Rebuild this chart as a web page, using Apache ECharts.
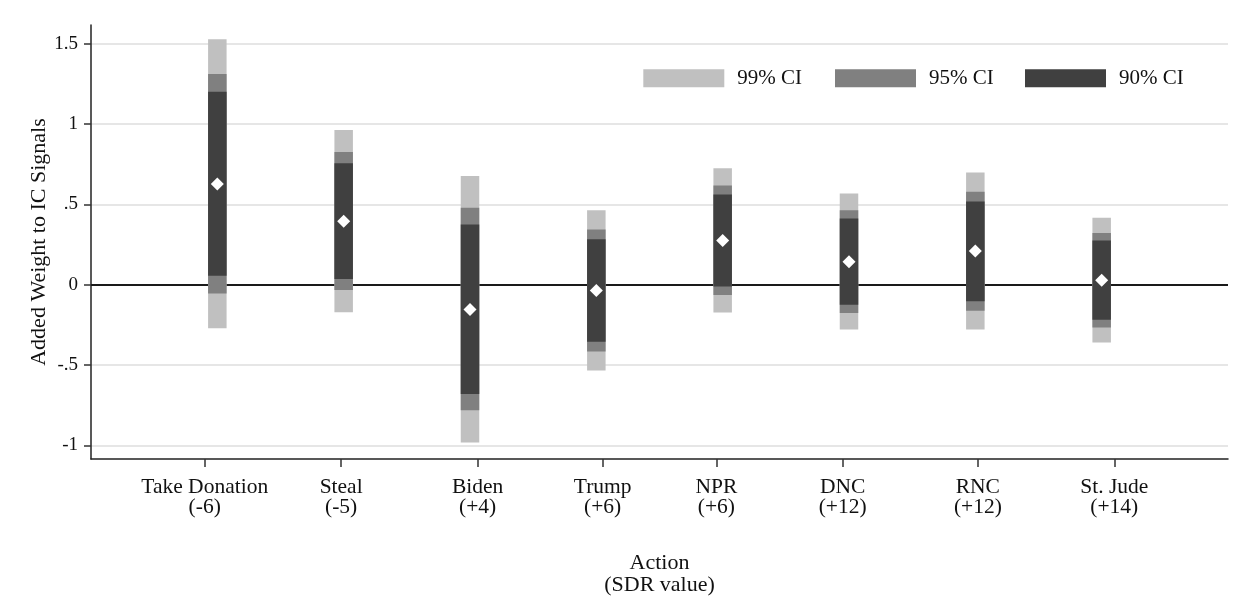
<!DOCTYPE html>
<html>
<head>
<meta charset="utf-8">
<script src="https://cdn.jsdelivr.net/npm/echarts@6/dist/echarts.min.js"></script>
<style>html,body{margin:0;padding:0;background:#fff}#c{width:1250px;height:601px}</style>
</head>
<body>
<div id="c"></div>
<script>
// ---- data ----
const labels = ['Take Donation\n(-6)', 'Steal\n(-5)', 'Biden\n(+4)', 'Trump\n(+6)', 'NPR\n(+6)', 'DNC\n(+12)', 'RNC\n(+12)', 'St. Jude\n(+14)'];
const barX = [1, 2, 3, 4, 5, 6, 7, 8];
const tickX = [0.90, 1.98, 3.06, 4.05, 4.95, 5.95, 7.02, 8.10];
const yTicks = [-1, -0.5, 0, 0.5, 1, 1.5];
const estimate = [0.628, 0.396, -0.153, -0.035, 0.276, 0.143, 0.211, 0.029];
const lo90 = [0.056, 0.037, -0.680, -0.354, -0.010, -0.124, -0.102, -0.218];
const hi90 = [1.202, 0.757, 0.375, 0.284, 0.562, 0.413, 0.518, 0.276];
const lo95 = [-0.054, -0.033, -0.781, -0.415, -0.064, -0.176, -0.162, -0.265];
const hi95 = [1.312, 0.827, 0.479, 0.344, 0.618, 0.464, 0.580, 0.323];
const lo99 = [-0.270, -0.170, -0.981, -0.533, -0.172, -0.278, -0.278, -0.359];
const hi99 = [1.528, 0.964, 0.678, 0.464, 0.725, 0.568, 0.699, 0.417];

const FONT = 'Liberation Serif';
const BAR_W = 18.5;

function ciSeries(name, lo, hi, color, z) {
  return {
    type: 'custom',
    name: name,
    z: z,
    itemStyle: { color: color },
    encode: { x: 0, y: [1, 2] },
    data: barX.map((x, i) => [x, lo[i], hi[i]]),
    renderItem: function (params, api) {
      const top = api.coord([api.value(0), api.value(2)]);
      const bot = api.coord([api.value(0), api.value(1)]);
      return {
        type: 'rect',
        shape: { x: top[0] - BAR_W / 2, y: top[1], width: BAR_W, height: bot[1] - top[1] },
        style: { fill: color }
      };
    }
  };
}

function nearestLabel(v) {
  let best = 0, d = Infinity;
  tickX.forEach((t, i) => { if (Math.abs(t - v) < d) { d = Math.abs(t - v); best = i; } });
  return labels[best];
}

function legendAt(left, name) {
  return {
    data: [name], left: left, top: 67.7, padding: 0,
    icon: 'rect', itemWidth: 81, itemHeight: 18,
    selectedMode: false,
    textStyle: { fontFamily: FONT, fontSize: 21, color: '#111', padding: [6, 0, 0, 8] }
  };
}

const chart = echarts.init(document.getElementById('c'));
chart.setOption({
  backgroundColor: '#fff',
  animation: false,
  textStyle: { fontFamily: FONT },
  grid: { left: 91, right: 22, top: 25, bottom: 141.7 },
  legend: [legendAt(643.3, '99% CI'), legendAt(835, '95% CI'), legendAt(1025, '90% CI')],
  xAxis: {
    type: 'value', min: 0, max: 9,
    name: 'Action\n(SDR value)', nameLocation: 'middle', nameGap: 93, nameMoveOverlap: false,
    nameTextStyle: { fontFamily: FONT, fontSize: 22, color: '#111', lineHeight: 22 },
    axisLine: { show: true, onZero: false, lineStyle: { color: '#222', width: 1.5 } },
    axisTick: { show: true, customValues: tickX, length: 8, lineStyle: { color: '#333', width: 1.5 } },
    axisLabel: { customValues: tickX, formatter: v => nearestLabel(v), fontFamily: FONT, fontSize: 21.5, color: '#111', lineHeight: 20, margin: 18 },
    splitLine: { show: false }
  },
  yAxis: {
    type: 'value', min: -1.084, max: 1.617,
    name: 'Added Weight to IC Signals', nameLocation: 'middle', nameGap: 41, nameMoveOverlap: false,
    nameTextStyle: { fontFamily: FONT, fontSize: 22, color: '#111' },
    axisLine: { show: true, onZero: false, lineStyle: { color: '#222', width: 1.5 } },
    axisTick: { show: true, customValues: yTicks, length: 7, lineStyle: { color: '#333', width: 1.5 } },
    axisLabel: {
      customValues: yTicks, fontFamily: FONT, fontSize: 19, color: '#111', margin: 13,
      formatter: v => v === 0 ? '0' : String(v).replace('0.', '.')
    },
    splitLine: { show: true, lineStyle: { color: '#e6e6e6', width: 2 } }
  },
  series: [
    {
      type: 'line', data: [], z: 1, silent: true,
      markLine: {
        z: 1, silent: true, symbol: ['none', 'none'], label: { show: false },
        lineStyle: { color: '#1a1a1a', width: 2, type: 'solid' },
        data: [{ yAxis: 0 }]
      }
    },
    ciSeries('99% CI', lo99, hi99, '#c0c0c0', 2),
    ciSeries('95% CI', lo95, hi95, '#808080', 2),
    ciSeries('90% CI', lo90, hi90, '#404040', 2),
    {
      type: 'scatter', z: 4, symbol: 'diamond', symbolSize: 13,
      itemStyle: { color: '#ffffff', opacity: 1 },
      data: barX.map((x, i) => [x, estimate[i]])
    }
  ]
});
</script>
</body>
</html>
